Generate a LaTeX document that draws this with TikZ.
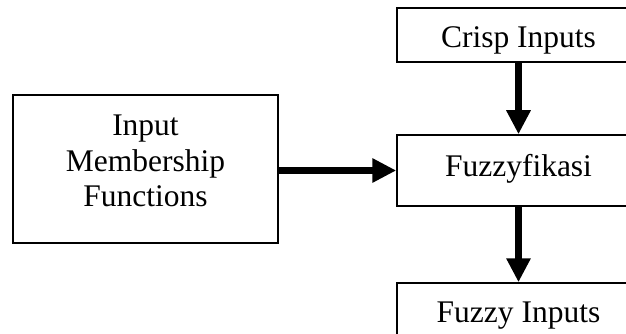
\documentclass[tikz,border=0pt]{standalone}
\usepackage{fontspec}
\setmainfont{Liberation Serif}
\usetikzlibrary{arrows.meta}
\begin{document}
\begin{tikzpicture}[x=1pt,y=-1pt,
  blockbox/.style={draw=black,line width=1.5pt,inner sep=0pt},
  blocktext/.style={inner sep=0pt,align=center,
    font=\fontsize{31.5}{35.5}\selectfont},
  flow/.style={line width=7.5pt,-{Triangle[width=23pt,length=24pt]}}]
\useasboundingbox (0,0) rectangle (626,334);
\clip (0,0) rectangle (626,334);
% processing column on the right
\node[blockbox,minimum width=243pt,minimum height=54pt] (crisp) at (518.5,35) {};
\node[blockbox,minimum width=243pt,minimum height=71pt] (fuzz) at (518.5,170.5) {};
\node[blockbox,minimum width=243pt,minimum height=54pt] (out) at (518.5,310) {};
\node[blocktext,anchor=base] (crisptext) at (518.5,48) {Crisp Inputs};
\node[blocktext,anchor=base] (fuzztext) at (518.5,176) {Fuzzyfikasi};
\node[blocktext,anchor=base] (outtext) at (518.5,322) {Fuzzy Inputs};
% membership functions block
\node[blockbox,minimum width=265pt,minimum height=148pt] (mf) at (145.5,169) {};
\node[blocktext,anchor=north] (mftext) at (145.5,115) {Input\\Membership\\Functions};
% connectors
\draw[flow] (crisp.south) -- (fuzz.north);
\draw[flow] (fuzz.south) -- (out.north);
\draw[flow] (fuzz.west -| mf.east) -- (fuzz.west);
\end{tikzpicture}
\end{document}
